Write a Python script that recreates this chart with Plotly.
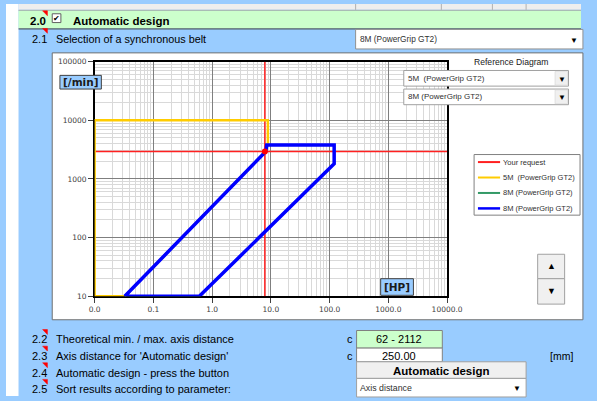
import plotly.graph_objects as go

W, H = 597, 401

# ---------------- data ----------------
x_tick_vals = [0.01, 0.1, 1, 10, 100, 1000, 10000]
x_tick_text = ["0.0", "0.1", "1.0", "10.0", "100.0", "1000.0", "10000.0"]
y_tick_vals = [10, 100, 1000, 10000, 100000]
y_tick_text = ["10", "100", "1000", "10000", "100000"]

request_power = 7.9      # HP
request_speed = 2930     # 1/min

belt5m_x = [0.0326, 0.01, 0.01, 8.9, 8.9, 8.5, 8.2, 0.0326]
belt5m_y = [10, 10, 10000, 10000, 3800, 3800, 2950, 10]

belt8m_ref_x = [0.0326, 8.2, 8.5, 119.5, 119.5, 0.605, 0.0326]
belt8m_ref_y = [10, 2950, 3800, 3800, 1810, 10, 10]

belt8m_x = [0.0326, 8.2, 8.5, 119.5, 119.5, 0.605, 0.0326]
belt8m_y = [10, 2950, 3800, 3800, 1810, 10, 10]

legend_names = ["Your request", "5M  (PowerGrip GT2)", "8M (PowerGrip GT2)", "8M (PowerGrip GT2)"]
legend_colors = ["#FF2020", "#FFCC00", "#339966", "#0000FF"]

# ---------------- helpers ----------------
def px(x):
    return x / W

def py(y):
    return 1 - y / H

BLUE_BG = "#99CCFF"
GREEN_BG = "#CCFFCC"
FONT = "Liberation Sans"

shapes = []
annotations = []

def rect(x0, y0, x1, y1, fill, line="rgba(0,0,0,0)", lw=1, layer="below"):
    shapes.append(dict(type="rect", xref="paper", yref="paper",
                       x0=px(x0), x1=px(x1), y0=py(y1), y1=py(y0),
                       fillcolor=fill, line=dict(color=line, width=lw), layer=layer))

def hline(x0, x1, y, color, lw=1, layer="below"):
    shapes.append(dict(type="line", xref="paper", yref="paper",
                       x0=px(x0), x1=px(x1), y0=py(y), y1=py(y),
                       line=dict(color=color, width=lw), layer=layer))

def vline(x, y0, y1, color, lw=1, layer="below"):
    shapes.append(dict(type="line", xref="paper", yref="paper",
                       x0=px(x), x1=px(x), y0=py(y0), y1=py(y1),
                       line=dict(color=color, width=lw), layer=layer))

def tri(x, y):
    path = f"M {px(x)},{py(y)} L {px(x+5)},{py(y)} L {px(x+5)},{py(y+5)} Z"
    shapes.append(dict(type="path", xref="paper", yref="paper", path=path,
                       fillcolor="#FF0000", line=dict(color="#FF0000", width=0.5), layer="above"))

def text(x, y, s, size=10.5, bold=False, anchor="left", color="#000000", family=FONT):
    if bold:
        s = f"<b>{s}</b>"
    annotations.append(dict(xref="paper", yref="paper", x=px(x), y=py(y), text=s,
                            showarrow=False, xanchor=anchor, yanchor="middle",
                            font=dict(size=size, color=color, family=family)))

# ---------------- background UI ----------------
rect(0, 0, 13, H, "#FFFFFF")
rect(13, 0, W, 6, "#EEEEEE")
for xv in [363, 452, 505, 540]:
    vline(xv, 0, 6, "#B0B0B0")
hline(13, W, 6.5, "#A0A0A0")
rect(13, 7, W, 25, GREEN_BG)
hline(13, W, 25.5, "#404040", 1)
rect(48, 50, W + 2, 323, "#FFFFFF", line="#707070", lw=1)

text(23, 17, "2.0", size=11.5, bold=True)
rect(48, 10, 57, 19, "#FFFFFF", line="#606060", lw=1, layer="above")
text(52.5, 14.5, "✔", size=8, anchor="center")
text(67, 17, "Automatic design", size=11.5, bold=True)
tri(38, 7)
text(25, 36, "2.1", size=11)
text(50, 36, "Selection of a synchronous belt", size=10.8)
tri(38, 25)

rect(363, 26, W + 2, 46, "#FFFFFF", line="#909090", lw=1)
text(365, 36, "8M (PowerGrip GT2)", size=8.3, color="#303030")
text(590, 37, "▼", size=8, anchor="center")

text(524.5, 59, "Reference Diagram", size=8.6, anchor="center", color="#202020")
rect(413, 68, 584, 84, "#FFFFFF", line="#A0A0A0", lw=1, layer="above")
rect(570, 69, 583, 83, "#F0F0F0", line="#D0D0D0", lw=0.5, layer="above")
text(415, 76, "5M  (PowerGrip GT2)", size=8, color="#303030")
text(577, 77, "▼", size=8, anchor="center")
rect(413, 87, 584, 103, "#FFFFFF", line="#A0A0A0", lw=1, layer="above")
rect(570, 88, 583, 102, "#F0F0F0", line="#D0D0D0", lw=0.5, layer="above")
text(415, 95, "8M (PowerGrip GT2)", size=8, color="#303030")
text(577, 96, "▼", size=8, anchor="center")

# legend box (compact spreadsheet-style legend)
rect(486, 154, 596, 216, "#FFFFFF", line="#808080", lw=1)
for i, (nm, col) in enumerate(zip(legend_names, legend_colors)):
    yy = 161.7 + i * 15.8
    hline(490, 513, yy, col, lw=2.5 if i == 3 else 2, layer="above")
    text(513.5, yy, nm, size=7.5, color="#303030")

rect(552, 256, 580, 281, "#F0F0F0", line="#A0A0A0", lw=1)
rect(552, 281, 580, 307, "#F0F0F0", line="#A0A0A0", lw=1)
text(566, 268, "▲", size=9, anchor="center")
text(566, 294, "▼", size=9, anchor="center")

rect(56, 73, 99, 87, BLUE_BG, line="#404040", lw=1, layer="above")
text(77.5, 80, "[/min]", size=10.5, bold=True, anchor="center", color="#1a1a1a", family="DejaVu Sans")
rect(389, 281, 423, 298, BLUE_BG, line="#404040", lw=1, layer="above")
text(406, 289.5, "[HP]", size=10.5, bold=True, anchor="center", color="#1a1a1a", family="DejaVu Sans")

rows = [(343, "2.2", "Theoretical min. / max. axis distance"),
        (360, "2.3", "Axis distance for 'Automatic design'"),
        (377, "2.4", "Automatic design - press the button"),
        (394, "2.5", "Sort results according to parameter:")]
for yy, num, lab in rows:
    text(25, yy, num, size=11)
    text(50, yy, lab, size=11)
    tri(38, yy - 10)

text(357, 343, "c", size=11, anchor="center")
text(357, 360, "c", size=11, anchor="center")
rect(364, 334, 453, 352, GREEN_BG, line="#808080", lw=1)
text(408.5, 343, "62 - 2112", size=11, anchor="center")
rect(364, 352, 453, 366, "#FFFFFF", line="#808080", lw=1)
text(408.5, 360, "250.00", size=11, anchor="center")
text(577, 360, "[mm]", size=10.5, anchor="center")
rect(364, 366, 540, 383, "#F0F0F0", line="#A0A0A0", lw=1)
text(452, 375, "Automatic design", size=11.5, bold=True, anchor="center")
rect(364, 383, 540, 402, "#FFFFFF", line="#A0A0A0", lw=1)
text(365, 393, "Axis distance", size=8.8, color="#303030")
text(531, 393, "▼", size=8, anchor="center")

# ---------------- chart traces ----------------
fig = go.Figure()

fig.add_trace(go.Scatter(
    x=[x_tick_vals[0], x_tick_vals[-1], None, request_power, request_power],
    y=[request_speed, request_speed, None, y_tick_vals[0], y_tick_vals[-1]],
    mode="lines", line=dict(color=legend_colors[0], width=1.5), name=legend_names[0]))

fig.add_trace(go.Scatter(x=belt5m_x, y=belt5m_y, mode="lines",
                         line=dict(color=legend_colors[1], width=2.5), name=legend_names[1]))

fig.add_trace(go.Scatter(x=belt8m_ref_x, y=belt8m_ref_y, mode="lines",
                         line=dict(color=legend_colors[2], width=2), name=legend_names[2]))

fig.add_trace(go.Scatter(x=belt8m_x, y=belt8m_y, mode="lines",
                         line=dict(color=legend_colors[3], width=3.5), name=legend_names[3]))

fig.add_trace(go.Scatter(x=[request_power], y=[request_speed], mode="markers",
                         marker=dict(color="#FF0000", size=6), name="request point"))

minor_x = [m * 10 ** k for k in range(-2, 4) for m in range(2, 10)]
minor_y = [m * 10 ** k for k in range(1, 5) for m in range(2, 10)]

axis_common = dict(
    type="log",
    showgrid=True, gridcolor="#7F7F7F", gridwidth=1,
    showline=True, linecolor="#000000", linewidth=1.5, mirror=True,
    ticks="outside", ticklen=5, tickcolor="#404040",
    tickfont=dict(family="DejaVu Sans", size=7.5, color="#404040"),
    zeroline=False, fixedrange=True, layer="below traces")

fig.update_xaxes(range=[-2, 4], domain=[px(92), px(458)],
                 tickvals=x_tick_vals, ticktext=x_tick_text,
                 minor=dict(tickvals=minor_x, showgrid=True, gridcolor="#D9D9D9", gridwidth=1, ticklen=0),
                 **axis_common)
fig.update_yaxes(range=[1, 5], domain=[py(299), py(59)],
                 tickvals=y_tick_vals, ticktext=y_tick_text,
                 minor=dict(tickvals=minor_y, showgrid=True, gridcolor="#D9D9D9", gridwidth=1, ticklen=0),
                 **axis_common)

fig.update_layout(
    width=W, height=H, autosize=False,
    margin=dict(l=0, r=0, t=0, b=0),
    paper_bgcolor=BLUE_BG, plot_bgcolor="#FFFFFF",
    shapes=shapes, annotations=annotations,
    showlegend=False, hovermode=False,
    font=dict(family=FONT),
)

fig.write_html("out.html",
               config={"displayModeBar": False, "staticPlot": True},
               post_script="document.body.style.margin='0px';document.body.style.overflow='hidden';")
